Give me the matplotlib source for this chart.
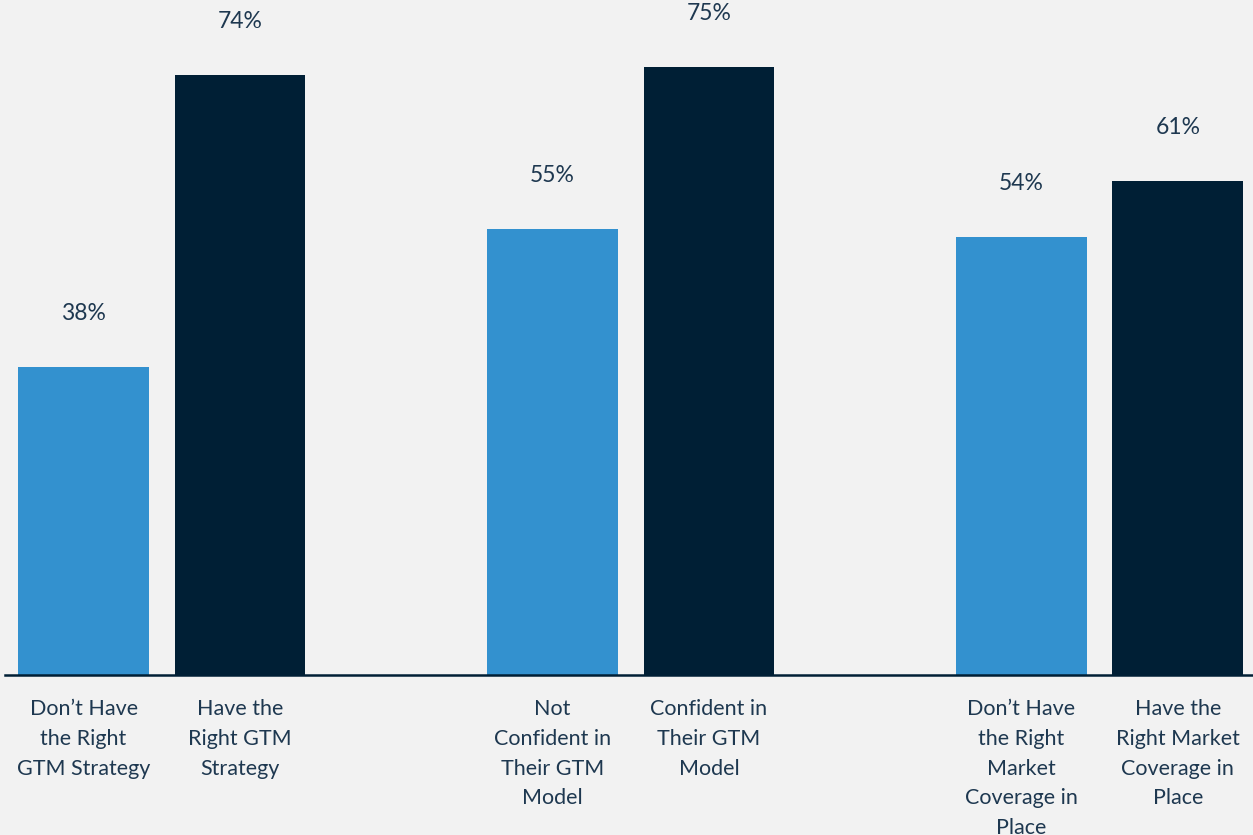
import matplotlib
matplotlib.use("Agg")
import matplotlib.pyplot as plt
import numpy as np

groups = ["GTM Strategy", "GTM Model", "Market Coverage"]
neg_labels = ["Don\u2019t Have\nthe Right\nGTM Strategy",
              "Not\nConfident in\nTheir GTM\nModel",
              "Don\u2019t Have\nthe Right\nMarket\nCoverage in\nPlace"]
pos_labels = ["Have the\nRight GTM\nStrategy",
              "Confident in\nTheir GTM\nModel",
              "Have the\nRight Market\nCoverage in\nPlace"]
neg_values = [38, 55, 54]
pos_values = [74, 75, 61]

bg = "#f2f2f2"
light = "#3391cf"
dark = "#001f35"
text_color = "#1e3850"

plt.rcParams["font.family"] = ["Lato", "DejaVu Sans"]

fig = plt.figure(figsize=(12.53, 8.35), dpi=100, facecolor=bg)
ax = fig.add_axes([0, 160 / 835, 1, 675 / 835])
ax.set_facecolor(bg)

x = np.arange(len(groups))
w = 0.279
off = 0.1668
b1 = ax.bar(x - off, neg_values, w, color=light)
b2 = ax.bar(x + off, pos_values, w, color=dark)

for bars, vals in ((b1, neg_values), (b2, pos_values)):
    for rect, v in zip(bars, vals):
        ax.text(rect.get_x() + rect.get_width() / 2, v + 6.6, f"{v}%",
                ha="center", va="center", fontsize=16.5, color=text_color)

for i in range(len(groups)):
    ax.text(x[i] - off, -3.0, neg_labels[i], ha="center", va="top",
            fontsize=15.5, color=text_color, linespacing=1.6)
    ax.text(x[i] + off, -3.0, pos_labels[i], ha="center", va="top",
            fontsize=15.5, color=text_color, linespacing=1.6)

ax.set_xlim(-0.345, 2.327)
ax.set_ylim(0, 83.3)
for s in ["top", "left", "right"]:
    ax.spines[s].set_visible(False)
ax.spines["bottom"].set_color(dark)
ax.spines["bottom"].set_linewidth(1.8)
ax.spines["bottom"].set_bounds(-0.334, 2.327)
ax.set_xticks([])
ax.set_yticks([])

fig.savefig("out.png", dpi=100, facecolor=bg)
